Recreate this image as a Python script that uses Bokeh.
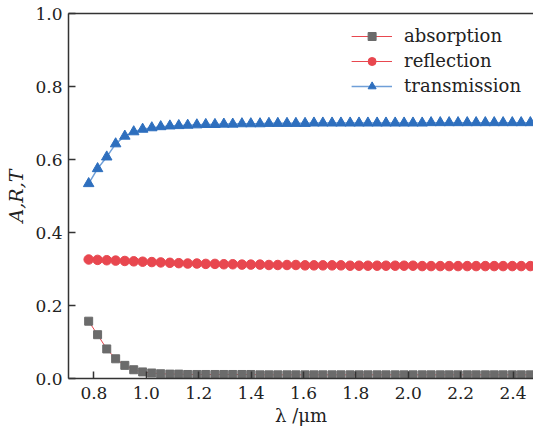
from bokeh.plotting import figure
from bokeh.models import Range1d, LinearAxis, FixedTicker, NumeralTickFormatter
from bokeh.embed import file_html
from bokeh.resources import INLINE

wavelength = [0.780, 0.814, 0.849, 0.883, 0.918, 0.952, 0.986, 1.021, 1.055, 1.090,
              1.124, 1.158, 1.193, 1.227, 1.262, 1.296, 1.330, 1.365, 1.399, 1.434,
              1.468, 1.502, 1.537, 1.571, 1.606, 1.640, 1.674, 1.709, 1.743, 1.778,
              1.812, 1.846, 1.881, 1.915, 1.950, 1.984, 2.018, 2.053, 2.087, 2.122,
              2.156, 2.190, 2.225, 2.259, 2.294, 2.328, 2.362, 2.397, 2.431, 2.466, 2.500]

absorption = [0.157, 0.120, 0.081, 0.054, 0.036, 0.024, 0.018, 0.015, 0.013, 0.012,
              0.012, 0.011, 0.011, 0.011, 0.011, 0.011, 0.011, 0.011, 0.011, 0.010,
              0.010, 0.010, 0.010, 0.010, 0.010, 0.010, 0.010, 0.010, 0.010, 0.010,
              0.010, 0.010, 0.010, 0.010, 0.010, 0.010, 0.010, 0.010, 0.010, 0.010,
              0.010, 0.010, 0.010, 0.010, 0.010, 0.010, 0.010, 0.010, 0.010, 0.010, 0.010]

reflection = [0.326, 0.325, 0.324, 0.323, 0.322, 0.321, 0.320, 0.319, 0.318, 0.317,
              0.316, 0.315, 0.315, 0.314, 0.314, 0.313, 0.313, 0.312, 0.312, 0.312,
              0.311, 0.311, 0.311, 0.311, 0.310, 0.310, 0.310, 0.310, 0.310, 0.309,
              0.309, 0.309, 0.309, 0.309, 0.309, 0.309, 0.309, 0.308, 0.308, 0.308,
              0.308, 0.308, 0.308, 0.308, 0.308, 0.308, 0.308, 0.308, 0.308, 0.308, 0.308]

transmission = [0.534, 0.575, 0.607, 0.643, 0.664, 0.676, 0.683, 0.687, 0.690, 0.692,
                0.693, 0.694, 0.695, 0.696, 0.696, 0.697, 0.697, 0.698, 0.698, 0.698,
                0.699, 0.699, 0.699, 0.699, 0.699, 0.700, 0.700, 0.700, 0.700, 0.700,
                0.700, 0.700, 0.700, 0.700, 0.700, 0.700, 0.700, 0.700, 0.701, 0.701,
                0.701, 0.701, 0.701, 0.701, 0.701, 0.701, 0.701, 0.701, 0.701, 0.701, 0.701]

x_ticks = [0.8, 1.0, 1.2, 1.4, 1.6, 1.8, 2.0, 2.2, 2.4]
y_ticks = [0.0, 0.2, 0.4, 0.6, 0.8, 1.0]

FONT = "DejaVu Serif"
AX = "#333333"

p = figure(width=533, height=431, x_range=Range1d(0.703, 2.478), y_range=Range1d(0, 1.0),
           output_backend="svg", toolbar_location=None,
           min_border_left=68, min_border_right=0, min_border_top=13, min_border_bottom=53)
p.outline_line_color = None
p.grid.visible = False
p.background_fill_color = "white"
p.border_fill_color = "white"

xax = p.below[0]
yax = p.left[0]
for ax in (xax, yax):
    ax.axis_line_color = AX
    ax.axis_line_width = 1.5
    ax.major_tick_line_color = AX
    ax.major_tick_line_width = 1.5
    ax.major_tick_in = 7
    ax.major_tick_out = 0
    ax.minor_tick_line_color = None
    ax.major_label_text_font = FONT
    ax.major_label_text_font_size = "17px"
    ax.major_label_text_color = "#222222"
    ax.axis_label_text_font = FONT
    ax.axis_label_text_font_size = "18px"
    ax.axis_label_text_color = "#222222"
    ax.formatter = NumeralTickFormatter(format="0.0")

xax.ticker = FixedTicker(ticks=x_ticks)
yax.ticker = FixedTicker(ticks=y_ticks)
xax.major_label_standoff = 8
yax.major_label_standoff = 6
xax.axis_label = "λ /μm"
xax.axis_label_text_font_style = "normal"
xax.axis_label_standoff = 3
yax.axis_label = "A,R,T"
yax.axis_label_text_font_style = "italic"
yax.axis_label_text_font_size = "19px"
yax.axis_label_standoff = 5

top = LinearAxis(ticker=FixedTicker(ticks=[]), major_tick_line_color=None, minor_tick_line_color=None,
                 major_label_text_font_size="0px", axis_line_color=AX, axis_line_width=1.5,
                 major_label_standoff=0)
p.add_layout(top, "above")

RED = "#e8474f"
GRAY = "#6b6b6b"
BLUE = "#2e6fbe"
LBLUE = "#6f9fd8"

p.line(wavelength, absorption, line_color=RED, line_width=1, legend_label="absorption")
p.scatter(wavelength, absorption, marker="square", size=8, fill_color=GRAY, line_color=GRAY,
          legend_label="absorption")
p.line(wavelength, reflection, line_color=RED, line_width=1.2, legend_label="reflection")
p.scatter(wavelength, reflection, marker="circle", size=9.5, fill_color=RED, line_color=RED,
          legend_label="reflection")
p.line(wavelength, transmission, line_color=LBLUE, line_width=1.5, legend_label="transmission")
p.scatter(wavelength, transmission, marker="triangle", size=10.5, fill_color=BLUE, line_color=BLUE,
          legend_label="transmission")

lg = p.legend[0]
lg.location = "top_right"
lg.border_line_color = None
lg.background_fill_alpha = 0
lg.label_text_font = FONT
lg.label_text_font_size = "18px"
lg.label_text_color = "#222222"
lg.glyph_width = 41
lg.glyph_height = 20
lg.label_standoff = 12
lg.spacing = 4
lg.padding = 0
lg.margin = 12
lg.label_height = 20

open("out.html", "w").write(file_html(p, INLINE))
